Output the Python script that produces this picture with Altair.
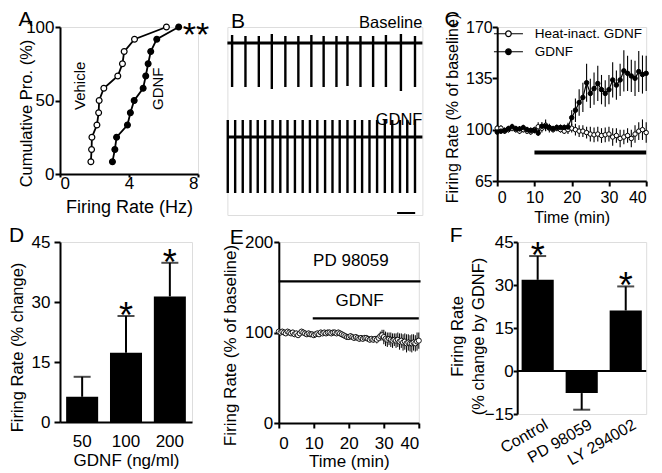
import altair as alt
import pandas as pd

FONT = "Liberation Sans"

# ---------------- Panel A: cumulative probability ----------------
a_cum = [8.3, 16.7, 25.0, 33.3, 41.7, 50.0, 58.3, 66.7, 75.0, 83.3, 91.7, 100.0]
a_vehicle = [1.79, 1.83, 1.85, 2.14, 2.24, 2.27, 2.54, 3.35, 3.62, 3.72, 4.32, 6.17]
a_gdnf = [3.04, 3.18, 3.28, 3.91, 4.08, 4.30, 4.82, 4.97, 5.11, 5.26, 5.61, 6.88]

# ---------------- Panel B: example traces ----------------
b_duration = 10.8  # s
b_base_t = [0.26, 1.0, 1.74, 2.46, 3.21, 3.93, 4.65, 5.33, 6.04, 6.65, 7.37, 8.07, 8.78, 9.61, 10.39]
b_base_up = [8, 7, 7, 9, 7, 7, 8, 7, 7, 7, 7, 7, 8, 9, 7]
b_base_down = [-44, -44, -44, -46, -44, -44, -44, -44, -44, -43, -44, -44, -44, -48, -44]
b_gdnf_t = [0.02, 0.43, 0.85, 1.28, 1.68, 2.09, 2.5, 2.93, 3.33, 3.74, 4.17, 4.57, 4.98,
            5.41, 5.82, 6.22, 6.65, 7.06, 7.46, 7.87, 8.29, 8.72, 9.13, 9.56, 9.96, 10.39]
b_gdnf_up = [17] * 26
b_gdnf_down = [-56] * 26
b_levels = {"Baseline": 0, "GDNF": -94}

# ---------------- Panel C: time course ----------------
c_time = list(range(41))
c_gdnf = [98.4, 99.0, 99.5, 100.7, 102.0, 100.7, 100.5, 101.4, 100.0, 99.5, 99.5, 97.7, 102.3,
          102.3, 101.5, 100.7, 101.5, 101.5, 101.5, 101.8, 108.2, 113.3, 118.5, 122.0, 132.0,
          124.7, 128.0, 131.5, 127.3, 124.7, 127.3, 133.9, 130.4, 133.9, 140.1, 138.4, 136.6,
          135.0, 139.6, 137.6, 138.4]
c_gdnf_sem = [2, 2, 2, 2, 2, 2, 2, 2, 2, 2, 2, 2, 3, 3, 2, 2, 2, 2, 2, 3, 5, 8, 9, 10, 13,
              10, 11, 12, 10, 9, 10, 12, 10, 11, 14, 12, 11, 12, 14, 13, 12]
c_heat = [101, 101, 99, 100, 101, 100, 99, 100, 99, 98.5, 100, 102, 101, 103, 101, 100, 101,
          100, 99, 100, 101, 100, 99, 99, 98, 97, 96.5, 97, 96, 96.5, 97, 95, 96, 94, 95, 96,
          94, 97, 99, 100, 98]
c_heat_sem = [2, 2, 2, 2, 2, 2, 2, 2, 2, 2, 2, 3, 3, 4, 3, 2, 2, 2, 2, 3, 3, 4, 4, 4, 4, 5,
              5, 5, 5, 5, 5, 6, 5, 6, 5, 5, 6, 6, 6, 7, 7]
c_gdnf_bar = [10, 40, 84.5]

# ---------------- Panel D: dose response ----------------
d_dose = ["50", "100", "200"]
d_mean = [6.3, 17.3, 31.4]
d_sem = [5.0, 9.2, 8.4]
d_star = [False, True, True]

# ---------------- Panel E: PD 98059 time course ----------------
e_time = [i * 0.5 for i in range(81)]
e_mean = [101, 100, 101, 100, 99, 101, 100, 99, 100, 98, 99, 97, 99, 101, 100, 99, 98, 99,
          98, 98, 97, 98, 99, 98, 100, 99, 100, 99, 100, 100, 99, 100, 100, 99, 100, 99, 98,
          97, 96, 95, 95, 96, 95, 94, 95, 94, 93, 94, 93, 94, 94, 93, 92, 93, 92, 93, 92, 94,
          96, 97, 95, 93, 92, 93, 92, 91, 92, 91, 92, 90, 91, 89, 90, 88, 89, 88, 88, 89, 88,
          90, 91]
e_sem = [3] * 56 + [4, 4, 5, 6, 8, 8, 8, 7, 8, 8, 7, 8, 8, 9, 8, 9, 9, 10, 9, 9, 10, 9, 9, 10, 9]
e_pd_bar = [0, 40.5, 156.5]
e_gdnf_bar = [9.7, 40, 115.6]

# ---------------- Panel F: inhibitors ----------------
f_cond = ["Control", "PD 98059", "LY 294002"]
f_mean = [31.8, -7.7, 21.1]
f_sem = [8.3, 5.8, 8.4]
f_star = [True, False, True]


def axis(**kw):
    base = dict(domainColor="black", domainWidth=2, tickColor="black", tickWidth=2,
                tickSize=5, labelColor="black", titleColor="black", grid=False,
                labelFont=FONT, titleFont=FONT, titleFontWeight="normal",
                labelFontSize=17, titleFontSize=17)
    base.update(kw)
    return alt.Axis(**base)


def yaxis(title, values, tx, ty, **kw):
    return axis(values=values, title=title, titleX=tx, titleY=ty, titleAngle=270,
                titleBaseline="bottom", titleAlign="center", **kw)


def ptitle(letter, offset, dx=0):
    return alt.TitleParams(letter, anchor="start", fontSize=21, fontWeight="normal",
                           font=FONT, color="black", offset=offset, dx=dx)


def indep(c):
    return c.resolve_scale(fill="independent").resolve_legend(fill="independent")


def wrap(p):
    return indep(alt.hconcat(p, spacing=0))


# ---------- A ----------
dfAv = pd.DataFrame({"rate": a_vehicle, "cum": a_cum})
dfAg = pd.DataFrame({"rate": a_gdnf, "cum": a_cum})
scAx = alt.Scale(domain=[0, 8], nice=False)
scAy = alt.Scale(domain=[0, 100], nice=False)
xA = alt.X("rate:Q", scale=scAx,
           axis=axis(values=[0, 4, 8], title="Firing Rate (Hz)", tickSize=3, labelPadding=-2,
                     titleY=24, titleBaseline="top", titleFontSize=18))
yA = alt.Y("cum:Q", scale=scAy,
           axis=yaxis("Cumulative Pro. (%)", [0, 50, 100], -25.5, 86, labelPadding=1,
                      titleFontSize=16.5))
layersA = []
for dfx in [dfAv, dfAg]:
    layersA.append(alt.Chart(dfx).mark_line(color="black", strokeWidth=1.8).encode(x=xA, y=yA))
for dfx, fillc in [(dfAv, "white"), (dfAg, "black")]:
    layersA.append(alt.Chart(dfx).mark_point(filled=True, fill=fillc, size=34, stroke="black",
                                             strokeWidth=1.2, opacity=1).encode(x=xA, y=yA))
labA = alt.Chart(pd.DataFrame({"rate": [1.16, 5.69], "cum": [60, 58], "t": ["Vehicle", "GDNF"]})).mark_text(
    angle=270, fontSize=15, font=FONT, color="black").encode(
    x=alt.X("rate:Q", scale=scAx), y=alt.Y("cum:Q", scale=scAy), text="t:N")
starA = alt.Chart(pd.DataFrame({"rate": [a_gdnf[-1]], "cum": [100.0], "t": ["**"]})).mark_text(
    align="left", baseline="middle", fontSize=34, font=FONT, color="black", dx=4, dy=9).encode(
    x=alt.X("rate:Q", scale=scAx), y=alt.Y("cum:Q", scale=scAy), text="t:N")
panelA = alt.layer(*layersA, labA, starA).properties(width=138, height=147, title=ptitle("A", -11.7))

# ---------- B ----------
rows = []
for name, ts, ups, downs in [("Baseline", b_base_t, b_base_up, b_base_down),
                             ("GDNF", b_gdnf_t, b_gdnf_up, b_gdnf_down)]:
    lvl = b_levels[name]
    for t, u, d in zip(ts, ups, downs):
        rows.append({"trace": name, "t": t, "top": lvl + u, "bot": lvl + d})
dfB = pd.DataFrame(rows)
scBx = alt.Scale(domain=[0, b_duration], nice=False)
scBy = alt.Scale(domain=[-172, 16], nice=False)
xB = alt.X("t:Q", scale=scBx, axis=None)
yB = alt.Y("top:Q", scale=scBy, axis=None)
spikesB = alt.Chart(dfB).mark_rule(color="black", strokeWidth=2.4).encode(x=xB, y=yB, y2="bot:Q")
dfBline = pd.DataFrame({"t": [0, 0], "t2": [b_duration, b_duration],
                        "top": [b_levels["Baseline"], b_levels["GDNF"]]})
traceB = alt.Chart(dfBline).mark_rule(color="black", strokeWidth=3).encode(x=xB, x2="t2:Q", y=yB)
dfBscale = pd.DataFrame({"t": [9.4], "t2": [10.4], "top": [-170]})
scaleB = alt.Chart(dfBscale).mark_rule(color="black", strokeWidth=2).encode(x=xB, x2="t2:Q", y=yB)
dfBlab = pd.DataFrame({"t": [b_duration, b_duration], "top": [15, -82], "txt": ["Baseline", "GDNF"]})
labB = alt.Chart(dfBlab).mark_text(align="right", baseline="alphabetic", fontSize=16.5, font=FONT,
                                   color="black").encode(x=xB, y=yB, text="txt:N")
panelB = alt.layer(traceB, spikesB, scaleB, labB).properties(width=195, height=188,
                                                              title=ptitle("B", -17.2, dx=5))

# ---------- C ----------
dfC = pd.DataFrame({
    "time": c_time + c_time,
    "rate": c_heat + c_gdnf,
    "sem": c_heat_sem + c_gdnf_sem,
    "group": ["Heat-inact. GDNF"] * 41 + ["GDNF"] * 41,
})
dfC["lo"] = dfC["rate"] - dfC["sem"]
dfC["hi"] = dfC["rate"] + dfC["sem"]
scCx = alt.Scale(domain=[0, 40], nice=False)
scCy = alt.Scale(domain=[65, 170], nice=False)
xC = alt.X("time:Q", scale=scCx,
           axis=axis(values=[0, 10, 20, 30, 40], title="Time (min)", labelPadding=3, labelFontSize=16,
                     titleY=28.5, titleBaseline="top", titleFontSize=16))
yC = alt.Y("rate:Q", scale=scCy,
           axis=yaxis("Firing Rate (% of baseline)", [65, 100, 135, 170], -36.6, 81, labelPadding=0,
                      labelFontSize=16, titleFontSize=16))
LEG_PATH = ("M-2.9,0H-0.56M0.56,0H2.9M-0.56,0A0.56,0.56,0,1,1,0.56,0"
            "A0.56,0.56,0,1,1,-0.56,0Z")
errC = alt.Chart(dfC).mark_rule(color="black", strokeWidth=1.1).encode(
    x=xC, y=alt.Y("lo:Q", scale=scCy), y2="hi:Q", detail="group:N")
lineC = alt.Chart(dfC).mark_line(color="black", strokeWidth=1.2).encode(x=xC, y=yC, detail="group:N")
ptsC = alt.Chart(dfC).mark_point(filled=True, size=20, stroke="black", strokeWidth=1, opacity=1).encode(
    x=xC, y=yC,
    fill=alt.Fill("group:N", scale=alt.Scale(domain=["Heat-inact. GDNF", "GDNF"], range=["white", "black"]),
                  legend=alt.Legend(title=None, orient="none", legendX=4.5, legendY=0,
                                    symbolType=LEG_PATH, symbolSize=100, symbolStrokeColor="black",
                                    symbolStrokeWidth=1.2, labelFontSize=13.5, labelFont=FONT,
                                    labelColor="black", labelOffset=19.5, padding=0, rowPadding=3)))
dfCbar = pd.DataFrame({"time": [c_gdnf_bar[0]], "t2": [c_gdnf_bar[1]], "rate": [c_gdnf_bar[2]]})
barC = alt.Chart(dfCbar).mark_rule(color="black", strokeWidth=4).encode(x=xC, x2="t2:Q", y=yC)
panelC = alt.layer(errC, lineC, ptsC, barC).properties(width=149, height=154, title=ptitle("C", -16.7))

# ---------- D ----------
dfD = pd.DataFrame({"dose": d_dose, "mean": d_mean, "sem": d_sem, "star": d_star})
dfD["hi"] = dfD["mean"] + dfD["sem"]
scDy = alt.Scale(domain=[0, 45], nice=False)
xD = alt.X("dose:N", sort=d_dose, scale=alt.Scale(paddingInner=0.27, paddingOuter=0.14),
           axis=axis(title="GDNF (ng/ml)", ticks=False, tickSize=0, labelAngle=0, labelPadding=11,
                     titleY=30, titleBaseline="top"))
yD = alt.Y("mean:Q", scale=scDy,
           axis=yaxis("Firing Rate (% change)", [0, 15, 30, 45], -35, 105, tickSize=6, labelPadding=4,
                      titleFontSize=16.5))
barsD = alt.Chart(dfD).mark_bar(color="black").encode(x=xD, y=yD)
errD = alt.Chart(dfD).mark_rule(color="black", strokeWidth=2).encode(
    x=xD, y=alt.Y("mean:Q", scale=scDy), y2="hi:Q")
capD = alt.Chart(dfD).mark_tick(color="black", thickness=2, size=17).encode(
    x=xD, y=alt.Y("hi:Q", scale=scDy))
starD = alt.Chart(dfD).transform_filter("datum.star").mark_text(
    text="*", fontSize=36, font=FONT, color="black", baseline="alphabetic", dy=12).encode(
    x=xD, y=alt.Y("hi:Q", scale=scDy))
panelD = alt.layer(barsD, errD, capD, starD).properties(width=132, height=180, title=ptitle("D", -12.7))

# ---------- E ----------
dfE = pd.DataFrame({"time": e_time, "rate": e_mean, "sem": e_sem})
dfE["lo"] = dfE["rate"] - dfE["sem"]
dfE["hi"] = dfE["rate"] + dfE["sem"]
scEx = alt.Scale(domain=[0, 40], nice=False)
scEy = alt.Scale(domain=[0, 200], nice=False)
xE = alt.X("time:Q", scale=scEx,
           axis=axis(values=[0, 10, 20, 30, 40], title="Time (min)", labelPadding=7,
                     titleY=30, titleBaseline="top"))
yE = alt.Y("rate:Q", scale=scEy,
           axis=yaxis("Firing Rate (% of baseline)", [0, 100, 200], -39, 103, labelPadding=1))
errE = alt.Chart(dfE).mark_rule(color="black", strokeWidth=1).encode(
    x=xE, y=alt.Y("lo:Q", scale=scEy), y2="hi:Q")
ptsE = alt.Chart(dfE).mark_point(filled=True, fill="white", size=26, stroke="black", strokeWidth=0.9,
                                 opacity=1).encode(x=xE, y=yE)
dfEbars = pd.DataFrame({"time": [e_pd_bar[0], e_gdnf_bar[0]], "t2": [e_pd_bar[1], e_gdnf_bar[1]],
                        "rate": [e_pd_bar[2], e_gdnf_bar[2]]})
barsE = alt.Chart(dfEbars).mark_rule(color="black", strokeWidth=2.2).encode(x=xE, x2="t2:Q", y=yE)
dfElab = pd.DataFrame({"time": [20.6, 23.1], "rate": [173.5, 129], "t": ["PD 98059", "GDNF"]})
labE = alt.Chart(dfElab).mark_text(fontSize=17, font=FONT, color="black", baseline="alphabetic").encode(
    x=xE, y=yE, text="t:N")
panelE = alt.layer(errE, ptsE, barsE, labE).properties(width=140, height=181,
                                                        title=ptitle("E", -14.7, dx=8))

# ---------- F ----------
dfF = pd.DataFrame({"cond": f_cond, "mean": f_mean, "sem": f_sem, "star": f_star})
dfF["end"] = dfF["mean"] + dfF["sem"] * dfF["mean"].apply(lambda v: 1 if v >= 0 else -1)
scFy = alt.Scale(domain=[-15, 45], nice=False)
xF = alt.X("cond:N", sort=f_cond, scale=alt.Scale(paddingInner=0.27, paddingOuter=0.1),
           axis=axis(title=None, ticks=False, tickSize=0, domain=False, labelAngle=330,
                     labelAlign="right", labelBaseline="middle", labelPadding=9, labelOffset=9,
                     labelFontSize=16))
yF = alt.Y("mean:Q", scale=scFy,
           axis=yaxis(["Firing Rate", "(% change by GDNF)"], [-15, 0, 15, 30, 45], -51.5, 94,
                      tickSize=4, labelPadding=0, titleFontSize=16.5, titleLineHeight=21))
barsF = alt.Chart(dfF).mark_bar(color="black").encode(x=xF, y=yF)
errF = alt.Chart(dfF).mark_rule(color="black", strokeWidth=2).encode(
    x=xF, y=alt.Y("mean:Q", scale=scFy), y2="end:Q")
capF = alt.Chart(dfF).mark_tick(color="black", thickness=2, size=17).encode(
    x=xF, y=alt.Y("end:Q", scale=scFy))
starF = alt.Chart(dfF).transform_filter("datum.star").mark_text(
    text="*", fontSize=36, font=FONT, color="black", baseline="alphabetic", dy=12).encode(
    x=xF, y=alt.Y("end:Q", scale=scFy))
zeroF = alt.Chart(pd.DataFrame({"mean": [0]})).mark_rule(color="black", strokeWidth=2).encode(
    y=alt.Y("mean:Q", scale=scFy))
panelF = alt.layer(barsF, errF, capF, starF, zeroF).properties(width=129, height=172,
                                                               title=ptitle("F", -12.7))

top = indep(alt.hconcat(indep(alt.hconcat(wrap(panelA), wrap(panelB), spacing=15.4)),
                        wrap(panelC), spacing=18.2))
bottom = indep(alt.hconcat(indep(alt.hconcat(wrap(panelD), wrap(panelE), spacing=27.8)),
                           wrap(panelF), spacing=25.2))
chart = indep(alt.vconcat(top, bottom, spacing=-2)).properties(padding=0).configure_view(
    stroke=None).configure(font=FONT)

chart.save("out.html", embed_options={"renderer": "svg", "actions": False})
